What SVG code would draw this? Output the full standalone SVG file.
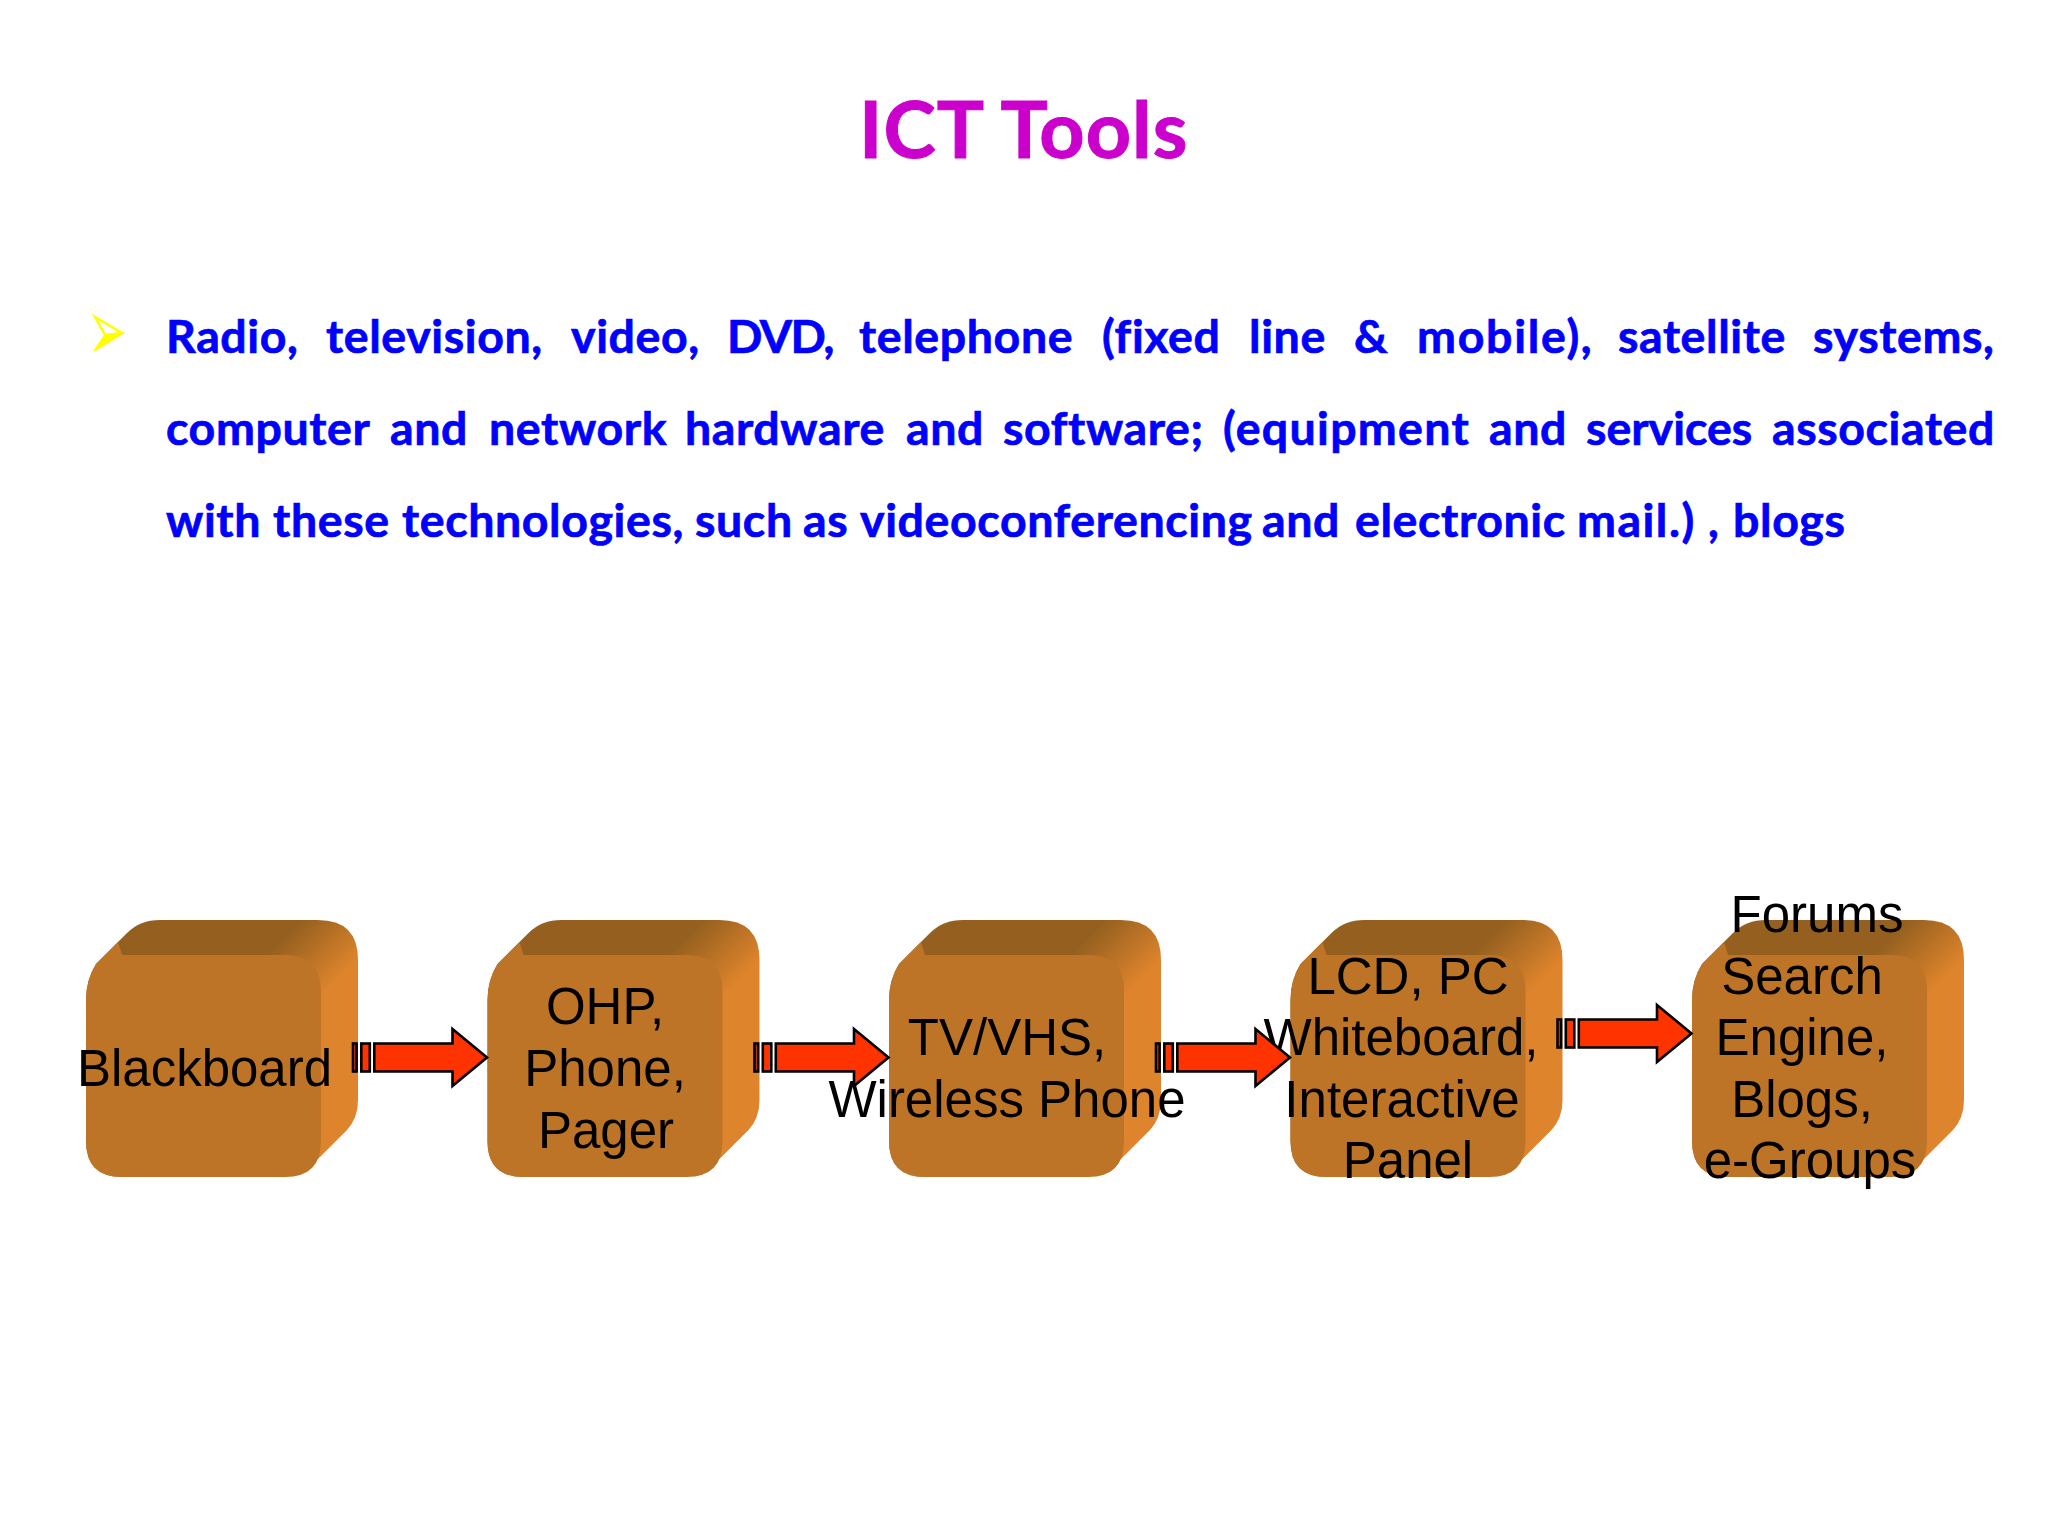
<svg xmlns="http://www.w3.org/2000/svg" width="2048" height="1536" viewBox="0 0 2048 1536">
<style>
.title{font:700 79px Lato,"Liberation Sans",sans-serif;fill:#CC00CC;stroke:#CC00CC;stroke-width:1;letter-spacing:1px;font-variant-ligatures:none}
.body{font:700 46.5px Lato,"Liberation Sans",sans-serif;fill:#0000FF;stroke:#0000FF;stroke-width:.7;letter-spacing:.6px;font-variant-ligatures:none}
.lbl{font:400 51px "Liberation Sans",Arial,sans-serif;fill:#000;text-anchor:middle}
.front{fill:#BD7427}
.ar{fill:#FF3300;stroke:#000;stroke-width:2.6}
</style>
<defs>
<linearGradient id="side" gradientUnits="userSpaceOnUse" x1="294" y1="928" x2="342" y2="976">
<stop offset="0" stop-color="#95601F"/><stop offset="1" stop-color="#DE842C"/>
</linearGradient>
<g id="cube">
<path fill="url(#side)" d="M86 1000Q86 980 96 964L127 933Q140 920 160 920H318Q358 920 358 960V1100Q358 1118 347 1130L320 1157Q300 1177 276 1177H122Q86 1177 86 1141Z"/>
<path class="front" d="M86 1141V1000Q86 980 96 964L118 942L122 955H285Q321 955 321 991V1141Q321 1177 285 1177H122Q86 1177 86 1141Z"/>
</g>
<g id="arrow">
<rect class="ar" x="353" y="1043.500" width="3.600" height="28"/>
<rect class="ar" x="361.300" y="1043.500" width="8.500" height="28"/>
<path class="ar" d="M374.300 1043.500H452.500V1029L487 1057.500L452.500 1086V1071.500H374.300Z"/>
</g>
</defs>
<rect width="2048" height="1536" fill="#fff"/>
<text class="title" x="859" y="158">ICT Tools</text>
<g id="bullet"><path d="M95 317L122 333L105 335Z" fill="#fff" stroke="#FFFF00" stroke-width="2.500"/><path d="M94 351L123 333L105 335Z" fill="#FFFF00" stroke="#FFFF00" stroke-width="1.500"/></g>
<g id="paragraph">
<text class="body" y="353"><tspan x="166">Radio,</tspan> <tspan x="326">television,</tspan> <tspan x="571">video,</tspan> <tspan x="727" letter-spacing="-1.500">DVD,</tspan> <tspan x="859">telephone</tspan> <tspan x="1102">(fixed</tspan> <tspan x="1249">line</tspan> <tspan x="1354">&amp;</tspan> <tspan x="1417" letter-spacing="1.700">mobile),</tspan> <tspan x="1618">satellite</tspan> <tspan x="1813">systems,</tspan></text>
<text class="body" y="445"><tspan x="166">computer</tspan> <tspan x="390">and</tspan> <tspan x="489">network</tspan> <tspan x="685">hardware</tspan> <tspan x="906">and</tspan> <tspan x="1003">software;</tspan> <tspan x="1223" letter-spacing="1.300">(equipment</tspan> <tspan x="1489">and</tspan> <tspan x="1586" letter-spacing="0">services</tspan> <tspan x="1772">associated</tspan></text>
<text class="body" y="537"><tspan x="166">with</tspan> <tspan x="273">these</tspan> <tspan x="402">technologies,</tspan> <tspan x="695">such</tspan> <tspan x="803">as</tspan> <tspan x="860">videoconferencing</tspan> <tspan x="1262">and</tspan> <tspan x="1355">electronic</tspan> <tspan x="1577" letter-spacing="1.500">mail.)</tspan> <tspan x="1708">,</tspan> <tspan x="1733">blogs</tspan></text>
</g>
<g id="node-blackboard"><use href="#cube"/><text class="lbl" x="204.500" y="1086">Blackboard</text></g>
<g id="node-ohp"><use href="#cube" x="401.500"/><text class="lbl"><tspan x="605" y="1024">OHP,</tspan><tspan x="605" y="1086">Phone,</tspan><tspan x="606" y="1148">Pager</tspan></text></g>
<g id="node-tv"><use href="#cube" x="803"/><text class="lbl"><tspan x="1007" y="1055">TV/VHS,</tspan><tspan x="1007" y="1117">Wireless Phone</tspan></text></g>
<g id="node-lcd"><use href="#cube" x="1204.500"/><text class="lbl"><tspan x="1408" y="994">LCD, PC</tspan><tspan x="1401" y="1055">Whiteboard,</tspan><tspan x="1402" y="1117">Interactive</tspan><tspan x="1408" y="1178">Panel</tspan></text></g>
<g id="node-forums"><use href="#cube" x="1606"/><text class="lbl"><tspan x="1817" y="932">Forums</tspan><tspan x="1802" y="994">Search</tspan><tspan x="1802" y="1055">Engine,</tspan><tspan x="1802" y="1117">Blogs,</tspan><tspan x="1810" y="1178">e-Groups</tspan></text></g>
<g id="connectors">
<use href="#arrow"/>
<use href="#arrow" x="401.500"/>
<use href="#arrow" x="803"/>
<use href="#arrow" x="1204.500" y="-24"/>
</g>
</svg>
